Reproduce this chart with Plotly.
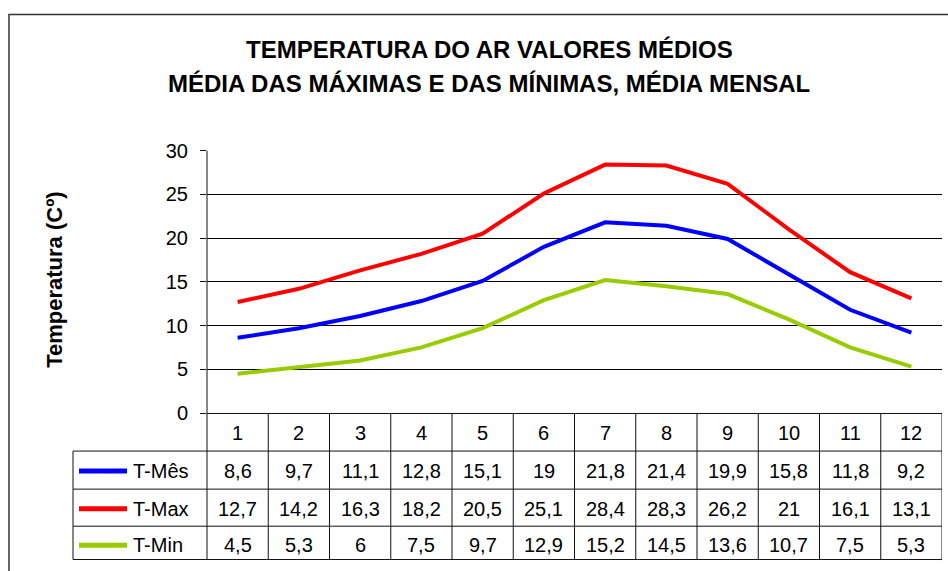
import plotly.graph_objects as go

months = [1, 2, 3, 4, 5, 6, 7, 8, 9, 10, 11, 12]
t_mes = [8.6, 9.7, 11.1, 12.8, 15.1, 19, 21.8, 21.4, 19.9, 15.8, 11.8, 9.2]
t_max = [12.7, 14.2, 16.3, 18.2, 20.5, 25.1, 28.4, 28.3, 26.2, 21, 16.1, 13.1]
t_min = [4.5, 5.3, 6, 7.5, 9.7, 12.9, 15.2, 14.5, 13.6, 10.7, 7.5, 5.3]
series_names = ["T-Mês", "T-Max", "T-Min"]
series_colors = ["#0000FF", "#FF0000", "#99CC00"]
y_ticks = [0, 5, 10, 15, 20, 25, 30]

W, H = 948, 571
FONT = "Liberation Sans, Arial, sans-serif"

# the page shows up slightly squeezed vertically; compensate
Y_OFF, Y_SCALE = 10.6, 0.96


def px(x):
    return x / W


def py(y):
    y = (y - Y_OFF) / Y_SCALE
    return 1 - min(y, H - 0.5) / H


def fmt(v):
    return ("%g" % v).replace(".", ",")


def label(x, y, text, size=20, xref="paper", **kw):
    d = dict(x=x, y=y, xref=xref, yref="paper", text=text, showarrow=False,
             xanchor="center", yanchor="middle",
             font=dict(size=size, color="black", family=FONT))
    d.update(kw)
    return d


fig = go.Figure()
for name, vals, col in zip(series_names, [t_mes, t_max, t_min], series_colors):
    fig.add_trace(go.Scatter(x=months, y=vals, name=name, mode="lines",
                             line=dict(color=col, width=4), showlegend=False))

# dummy trace on the overlay axis so its grid lines get drawn
fig.add_trace(go.Scatter(x=[months[0]], y=[0], yaxis="y2", mode="none",
                         showlegend=False, hoverinfo="skip"))

plot_x0, plot_x1 = 207, 942
plot_y0, plot_y1 = 150, 412
rows = [412, 450, 488, 525, 561]
tab_left = 73

shapes = []
ann = []

# outer chart border
shapes.append(dict(type="rect", xref="paper", yref="paper",
                   x0=px(9), x1=px(960), y0=py(14), y1=-0.05,
                   line=dict(color="#333333", width=1.5)))

# horizontal table lines
for r in rows[1:]:
    shapes.append(dict(type="line", xref="paper", yref="paper",
                       x0=px(tab_left), x1=px(plot_x1), y0=py(r), y1=py(r),
                       line=dict(color="#111111", width=1)))
# left edge of legend column
shapes.append(dict(type="line", xref="paper", yref="paper",
                   x0=px(tab_left), x1=px(tab_left), y0=py(rows[1]), y1=py(rows[-1]),
                   line=dict(color="#111111", width=1)))
# value axis line extended down through the table
shapes.append(dict(type="line", xref="paper", yref="paper",
                   x0=px(plot_x0), x1=px(plot_x0), y0=py(plot_y0), y1=py(rows[-1]),
                   line=dict(color="#111111", width=1)))
# column separators
for m in months:
    shapes.append(dict(type="line", xref="x", yref="paper",
                       x0=m + 0.5, x1=m + 0.5, y0=py(rows[0]), y1=py(rows[-1]),
                       line=dict(color="#111111", width=1)))

# header row (month numbers)
for m in months:
    ann.append(label(m, py((rows[0] + rows[1]) / 2 + 1), str(m), xref="x"))

# data rows with legend keys
for i, (name, vals, col) in enumerate(zip(series_names, [t_mes, t_max, t_min], series_colors)):
    yc = py((rows[i + 1] + rows[i + 2]) / 2 + 1)
    shapes.append(dict(type="line", xref="paper", yref="paper",
                       x0=px(79), x1=px(127), y0=yc, y1=yc,
                       line=dict(color=col, width=5)))
    ann.append(label(px(131), yc, name, xanchor="left"))
    for m, v in zip(months, vals):
        ann.append(label(m, yc, fmt(v), xref="x"))

# title
ann.append(label(px(489), py(49), "<b>TEMPERATURA DO AR VALORES MÉDIOS</b>", size=24))
ann.append(label(px(489), py(83), "<b>MÉDIA DAS MÁXIMAS E DAS MÍNIMAS, MÉDIA MENSAL</b>", size=24))
# y axis title
ann.append(label(px(55), py(279), "<b>Temperatura (Cº)</b>", size=22, textangle=-90))

fig.update_layout(
    width=W, height=H,
    margin=dict(l=0, r=0, t=0, b=0),
    paper_bgcolor="white", plot_bgcolor="white",
    font=dict(family=FONT, color="black"),
    xaxis=dict(domain=[px(plot_x0), px(plot_x1)], range=[0.5, 12.5],
               showgrid=False, zeroline=False, showticklabels=False,
               showline=True, linecolor="#111111", linewidth=1, ticks=""),
    yaxis=dict(domain=[py(plot_y1), py(plot_y0)], range=[0, 30],
               tickvals=y_ticks, ticks="outside", ticklen=6, tickcolor="#111111",
               ticklabelstandoff=8,
               showgrid=False, zeroline=False, showline=False,
               tickfont=dict(size=20, color="black", family=FONT)),
    yaxis2=dict(overlaying="y", range=[0, 30], tickvals=y_ticks[1:-1],
                showgrid=True, gridcolor="black", gridwidth=1,
                showticklabels=False, zeroline=False, showline=False),
    shapes=shapes,
    annotations=ann,
)

fig.write_html("out.html", config={"displayModeBar": False},
               post_script="document.body.style.margin='0';document.body.style.overflow='hidden';")
